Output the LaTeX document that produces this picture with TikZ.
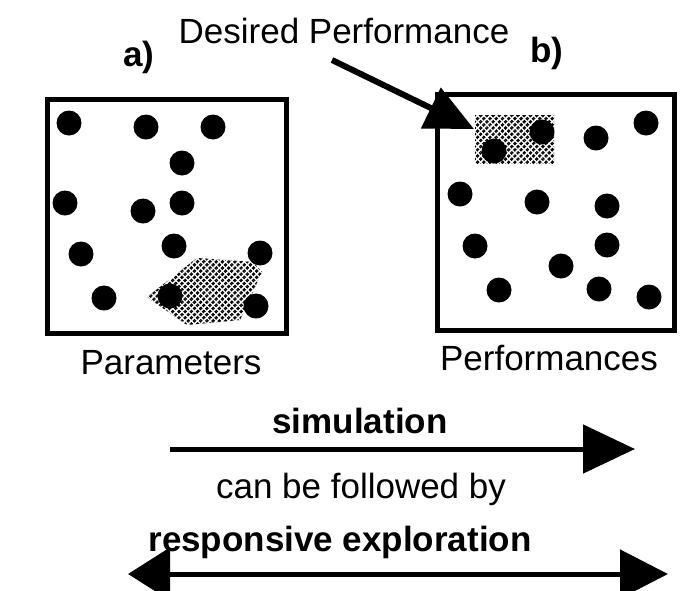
\documentclass[tikz,border=0pt]{standalone}
\usepackage{fontspec}
\setmainfont{Liberation Sans}
\usetikzlibrary{arrows.meta,patterns.meta}
\begin{document}
\begin{tikzpicture}[x=1pt,y=-1pt,
  dot/.style={circle,fill=black,inner sep=0pt,minimum size=25pt},
  frame/.style={draw=black,line width=5pt,inner sep=0pt},
  lbl/.style={anchor=base,inner sep=0pt,font=\fontsize{35}{40}\selectfont},
  blbl/.style={anchor=base,inner sep=0pt,font=\fontsize{35}{40}\selectfont\bfseries},
  hatchA/.style={pattern={Lines[angle=45,distance=4.4pt,line width=2.6pt]}},
  hatchB/.style={pattern={Lines[angle=-45,distance=4.4pt,line width=1.2pt]},pattern color=white},
  simarrow/.style={line width=5pt,-{Triangle[length=52pt,width=48pt]}},
  resarrow/.style={line width=5pt,{Triangle[length=42pt,width=52pt]}-{Triangle[length=48pt,width=48pt]}},
  dparrow/.style={line width=6pt,-{Triangle[length=48pt,width=44pt]}}]
\useasboundingbox[fill=white] (0,0) rectangle (680,590);

% frames
\node[frame,minimum width=239pt,minimum height=234pt] (pbox) at (167,216.5) {};
\node[frame,minimum width=237pt,minimum height=236pt] (fbox) at (556,212.5) {};

% hatched regions
\path[hatchA] (147,297) -- (197,258) -- (253,262) -- (262,272) -- (240,320) -- (187,325) -- cycle;
\path[hatchB] (147,297) -- (197,258) -- (253,262) -- (262,272) -- (240,320) -- (187,325) -- cycle;
\path[hatchA] (475,115) rectangle (554,163);
\path[hatchB] (475,115) rectangle (554,163);

% dots, left box
\node[dot] (l1) at (69,123) {};
\node[dot] (l2) at (146,127) {};
\node[dot] (l3) at (213,127) {};
\node[dot] (l4) at (182,163) {};
\node[dot] (l5) at (65,203) {};
\node[dot] (l6) at (143,211) {};
\node[dot] (l7) at (182,203) {};
\node[dot] (l8) at (81,254) {};
\node[dot] (l9) at (174,246) {};
\node[dot] (l10) at (260,253) {};
\node[dot] (l11) at (104,298) {};
\node[dot] (l12) at (170,296) {};
\node[dot] (l13) at (256,306) {};

% dots, right box
\node[dot] (r1) at (542,132) {};
\node[dot] (r2) at (596,138) {};
\node[dot] (r3) at (646,123) {};
\node[dot] (r4) at (494,151) {};
\node[dot] (r5) at (460,194) {};
\node[dot] (r6) at (537,202) {};
\node[dot] (r7) at (607,206) {};
\node[dot] (r8) at (475,246) {};
\node[dot] (r9) at (607,245) {};
\node[dot] (r10) at (561,266) {};
\node[dot] (r11) at (499,290) {};
\node[dot] (r12) at (599,289) {};
\node[dot] (r13) at (649,297) {};

% labels
\node[lbl] (dp) at (344,43) {Desired Performance};
\node[blbl] (la) at (139,66) {a)};
\node[blbl] (lb) at (547,62) {b)};
\node[lbl] (par) at (171,374) {Parameters};
\node[lbl] (perf) at (549,370) {Performances};
\node[blbl] (sim) at (360,433) {simulation};
\node[lbl] (cbf) at (361,498) {can be followed by};
\node[blbl] (resp) at (340,551) {responsive exploration};

% arrows
\coordinate (dpstart) at (332,60);
\coordinate (dptip) at (474,129);
\draw[dparrow] (dpstart) -- (dptip);

\coordinate (s1) at (170,449);
\coordinate (s2) at (635,449);
\draw[simarrow] (s1) -- (s2);

\coordinate (e1) at (128,574);
\coordinate (e2) at (668,574);
\draw[resarrow] (e1) -- (e2);
\end{tikzpicture}
\end{document}
